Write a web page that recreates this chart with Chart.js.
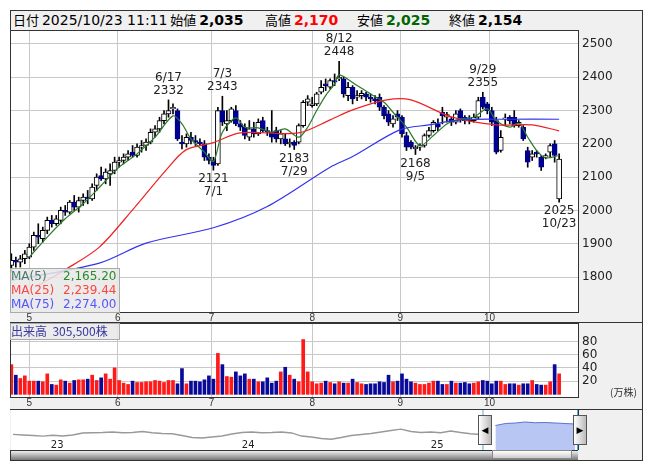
<!DOCTYPE html>
<html><head><meta charset="utf-8">
<script src="https://cdn.jsdelivr.net/npm/chart.js@4/dist/chart.umd.min.js"></script>
<style>
body{margin:0;background:#fff;font-family:"DejaVu Sans",sans-serif;}
#frame{position:absolute;left:10px;top:10px;width:631px;height:449px;border:1px solid #333;background:#f0f0f0;}
#hdr{position:absolute;left:10px;top:10px;width:632px;height:20px;font-family:"Noto Sans CJK JP","DejaVu Sans",sans-serif;font-size:13px;line-height:20px;white-space:nowrap;}
#hdr span{position:absolute;top:0}
#hdr i{font-style:normal;font-family:"DejaVu Sans",sans-serif;font-size:14px}
#hdr b{font-family:"DejaVu Sans",sans-serif;font-size:14px}
canvas{position:absolute;}
.box{position:absolute;background:rgba(232,232,232,0.85);border:1px solid #aaa;font-size:12px;line-height:14px;white-space:nowrap;}
</style></head><body>
<div id="frame"></div>
<div id="hdr">
<span style="left:3px">日付 <i>2025/10/23 11:11</i> 始値 <b>2,035</b></span>
<span style="left:255px">高値 <b style="color:#f00">2,170</b></span>
<span style="left:347px">安値 <b style="color:#060">2,025</b></span>
<span style="left:439px">終値 <b>2,154</b></span>
</div>
<canvas id="pc" style="left:10px;top:30px;width:632px;height:293px" width="632" height="293"></canvas>
<canvas id="vc" style="left:10px;top:323px;width:632px;height:87px" width="632" height="87"></canvas>
<canvas id="nc" style="left:10px;top:410px;width:632px;height:40px" width="632" height="40"></canvas>
<div style="position:absolute;left:11px;top:450px;width:567px;height:9px;background:linear-gradient(#eee,#777);border-top:1px solid #333"></div>
<div style="position:absolute;left:492px;top:450px;width:80px;height:9px;background:linear-gradient(#fff,#ccc);border:1px solid #888;box-sizing:border-box"></div>
<div style="position:absolute;left:478px;top:415px;width:12px;height:28px;background:linear-gradient(90deg,#fff,#bbb);border:1px solid #555;font-size:9px;line-height:28px;text-align:center">◀</div>
<div style="position:absolute;left:573px;top:415px;width:12px;height:28px;background:linear-gradient(90deg,#fff,#bbb);border:1px solid #555;font-size:9px;line-height:28px;text-align:center">▶</div>
<div class="box" style="left:10px;top:268px;width:108px;height:43px">
<div><span style="color:#4a7a6a">MA(5)</span><span style="position:absolute;left:52px;color:#2a8a2a">2,165.20</span></div>
<div><span style="color:#f44">MA(25)</span><span style="position:absolute;left:52px;color:#f44">2,239.44</span></div>
<div><span style="color:#55f">MA(75)</span><span style="position:absolute;left:52px;color:#55f">2,274.00</span></div>
</div>
<div class="box" style="left:10px;top:323px;width:108px;height:15px;color:#3838a0;font-family:'Noto Sans CJK JP',sans-serif">出来高 &nbsp;305,500株</div>
<div style="position:absolute;left:610px;top:384px;font-size:10px;color:#333;font-family:'Noto Sans CJK JP',sans-serif">(万株)</div>
<script>
const bars=[
[1835,1870,1815,1850],[1850,1860,1830,1845],[1845,1865,1830,1855],[1855,1880,1840,1870],[1860,1900,1855,1890],
[1890,1935,1880,1925],[1925,1960,1900,1920],[1915,1950,1905,1940],[1940,1980,1930,1970],[1970,1985,1950,1960],
[1960,1985,1955,1975],[1970,2010,1960,2000],[2000,2015,1985,1995],[1995,2030,1990,2025],[2025,2045,2000,2010],
[2010,2040,1995,2030],[2030,2050,2015,2040],[2040,2060,2020,2035],[2035,2080,2030,2070],[2075,2110,2060,2100],
[2105,2130,2090,2095],[2095,2125,2080,2115],[2110,2140,2075,2120],[2120,2160,2110,2145],[2145,2160,2130,2150],
[2150,2170,2140,2160],[2160,2180,2150,2170],[2175,2195,2160,2165],[2165,2200,2160,2190],[2190,2210,2175,2195],
[2195,2215,2180,2205],[2205,2245,2200,2235],[2235,2255,2220,2245],[2245,2280,2235,2270],[2270,2300,2260,2290],
[2290,2332,2280,2300],[2305,2320,2290,2310],[2300,2305,2210,2215],[2205,2225,2185,2200],[2200,2230,2190,2220],
[2220,2235,2200,2210],[2210,2225,2195,2205],[2205,2215,2195,2200],[2200,2210,2150,2160],[2160,2170,2140,2150],
[2150,2160,2121,2135],[2140,2310,2135,2300],[2300,2343,2255,2265],[2260,2300,2240,2270],[2270,2310,2265,2305],
[2300,2315,2255,2260],[2260,2270,2240,2250],[2250,2260,2215,2225],[2220,2270,2210,2245],[2245,2265,2220,2230],
[2230,2275,2225,2265],[2270,2280,2235,2240],[2240,2250,2225,2235],[2235,2300,2205,2220],[2240,2250,2205,2215],
[2215,2240,2200,2230],[2215,2230,2195,2200],[2200,2215,2190,2205],[2205,2210,2183,2195],[2205,2260,2200,2255],
[2255,2330,2250,2325],[2325,2345,2315,2335],[2315,2340,2310,2320],[2320,2355,2315,2350],[2355,2390,2350,2370],
[2380,2395,2360,2375],[2370,2395,2365,2390],[2390,2410,2375,2385],[2395,2448,2390,2400],[2395,2400,2340,2350],
[2345,2385,2330,2370],[2370,2375,2320,2335],[2340,2360,2330,2345],[2345,2360,2335,2352],[2350,2355,2330,2340],
[2340,2350,2325,2335],[2335,2345,2320,2330],[2340,2350,2300,2310],[2310,2315,2275,2285],[2290,2300,2255,2265],
[2260,2285,2250,2275],[2290,2300,2270,2280],[2280,2285,2220,2230],[2225,2235,2180,2190],[2205,2210,2185,2190],
[2185,2195,2168,2190],[2190,2200,2180,2195],[2195,2230,2190,2225],[2225,2250,2220,2240],[2240,2270,2235,2265],
[2260,2275,2240,2250],[2295,2310,2260,2285],[2280,2295,2265,2288],[2275,2280,2255,2265],[2265,2300,2260,2290],
[2300,2305,2265,2275],[2280,2285,2260,2270],[2275,2285,2260,2270],[2270,2290,2265,2280],[2280,2340,2275,2330],
[2340,2355,2305,2310],[2320,2325,2290,2300],[2300,2310,2255,2265],[2270,2280,2170,2175],[2180,2240,2175,2220],
[2275,2290,2255,2275],[2280,2285,2260,2270],[2280,2300,2250,2255],[2255,2270,2250,2265],[2250,2255,2210,2215],
[2180,2190,2130,2145],[2160,2180,2150,2170],[2175,2180,2160,2170],[2160,2165,2120,2130],[2160,2170,2155,2165],
[2175,2200,2160,2195],[2200,2210,2145,2165],[2035,2170,2025,2154]];
const vol=[45,29,24,28,20,20,20,19,31,15, 14,22,20,17,21,22,22,23,29,21, 25,31,23,40,21,17,15,20,18,18,
19,19,21,20,18,21,21,16,39,16, 20,20,19,22,28,23,62,45,27,26, 34,28,31,23,23,19,19,25,17,20,
34,41,29,23,19,83,34,19,16,17, 20,18,16,19,17,17,23,18,16,15, 16,16,19,18,29,19,20,31,23,19,
17,15,15,17,20,20,15,15,20,17, 17,18,16, 17,19,21,20,16,20,20,15,16,16, 14,16,16,21,15,14,14,19,45,31];
const ma5=[[4,1860],[8,1920],[12,1975],[16,2020],[20,2075],[24,2130],[28,2170],[32,2220],[36,2284],[38,2260],[40,2215],[43,2175],[45,2147],[47,2235],[50,2278],[52,2250],[55,2248],[58,2235],[61,2245],[64,2220],[66,2250],[68,2300],[70,2345],[72,2380],[73,2407],[77,2375],[80,2350],[83,2325],[85,2295],[88,2250],[91,2195],[94,2225],[97,2260],[100,2275],[103,2280],[106,2305],[108,2270],[111,2250],[113,2262],[115,2220],[117,2180],[119,2158],[122,2165]];
const ma25=[[6,1775],[12,1822],[19.6,1890],[27,2002],[34.5,2122],[38.9,2182],[44.8,2203],[51,2233],[64,2233],[71,2272],[76,2302],[83.6,2332],[89,2332],[98,2281],[108,2257],[116,2257],[122,2239]];
const ma75=[[0,1790],[19.6,1842],[30,1902],[45,1948],[57,2012],[71,2130],[76,2162],[86.5,2242],[93,2257],[100,2272],[110,2274],[122,2274]];
const monthStarts=[4,23.7,44.6,67,86.6,106.5];
const monthLabels=['5','6','7','8','9','10'];
const priceTicks=[1800,1900,2000,2100,2200,2300,2400,2500];
const volTicks=[20,40,60,80];
const marks=[{i:35,v:2332,t:['6/17','2332'],up:true},{i:47,v:2343,t:['7/3','2343'],up:true},{i:73,v:2448,t:['8/12','2448'],up:true},{i:105,v:2355,t:['9/29','2355'],up:true},
{i:45,v:2121,t:['2121','7/1'],up:false},{i:63,v:2183,t:['2183','7/29'],up:false},{i:90,v:2168,t:['2168','9/5'],up:false},{i:122,v:2025,t:['2025','10/23'],up:false}];
const navGray=[1624,1600,1580,1555,1590,1560,1600,1680,1690,1700,1720,1690,1700,1740,1690,1660,1650,1580,1500,1480,1520,1560,1640,1700,1720,1690,1700,1720,1680,1560,1520,1460,1430,1500,1580,1620,1660,1720,1780,1832,1740,1700,1720,1690,1760,1700,1650,1620];
const navBlue=[1980,2060,2080,2120,2090,2100,2080,2060,2040];
const navYears=[[3.8,'23'],[23,'24'],[42,'25']];

const up=bars.map(b=>b[3]>=b[0]);
const XMIN=-0.3,XMAX=126.2;
const noPad=s=>{s.paddingTop=0;s.paddingBottom=0;s.paddingLeft=0;s.paddingRight=0;};
const frameP={id:'fp',beforeDraw(c){const x=c.ctx,a=c.chartArea;x.save();x.fillStyle='#f0f0f0';x.fillRect(0,0,c.width,c.height);x.fillStyle='#fff';x.fillRect(a.left,a.top,a.right-a.left,a.bottom-a.top);x.restore();},
afterDraw(c){const x=c.ctx,a=c.chartArea;x.save();x.strokeStyle='#333';x.lineWidth=1;x.strokeRect(a.left+0.5,a.top+0.5,a.right-a.left,a.bottom-a.top);x.beginPath();x.moveTo(0,c.height-0.5);x.lineTo(c.width,c.height-0.5);x.stroke();x.restore();}};
function xAxis(h){return {type:'linear',min:XMIN,max:XMAX,offset:false,bounds:'ticks',afterBuildTicks:s=>{s.ticks=monthStarts.map(v=>({value:v}));},
ticks:{callback:(v,i)=>monthLabels[i],font:{size:10},color:'#333',padding:0,maxRotation:0,autoSkip:false},
grid:{color:'#c8c8c8',drawTicks:false,offset:false},border:{display:false},afterFit:s=>{s.height=h;noPad(s);}};}
const annP={id:'ann',afterDatasetsDraw(c){const x=c.ctx,xs=c.scales.x,ys=c.scales.y;x.save();x.font='12px "DejaVu Sans"';x.fillStyle='#222';x.textAlign='center';
for(const m of marks){const px=xs.getPixelForValue(m.i),py=ys.getPixelForValue(m.v);
if(m.up){x.textBaseline='bottom';x.fillText(m.t[1],px,py-3);x.fillText(m.t[0],px,py-16);}else{x.textBaseline='top';x.fillText(m.t[0],px,py+3);x.fillText(m.t[1],px,py+16);}}x.restore();}};
const lineDs=(d,col)=>({type:'line',data:d.map(p=>({x:p[0],y:p[1]})),borderColor:col,borderWidth:1.2,pointRadius:0,tension:0.3,order:0});
const yTick=v=>String(v);
new Chart(document.getElementById('pc'),{type:'bar',data:{datasets:[
{data:bars.map((b,i)=>({x:i,y:[b[2],b[1]]})),backgroundColor:'#000',barThickness:1,grouped:false,order:3},
{data:bars.map((b,i)=>({x:i,y:[b[0],b[3]]})),backgroundColor:up.map(u=>u?'#fff':'#000090'),borderColor:up.map(u=>u?'#000':'#000090'),borderWidth:1,borderSkipped:false,barThickness:5,minBarLength:1,grouped:false,order:2},
lineDs(ma75,'#3333ee'),lineDs(ma25,'#ee2222'),lineDs(ma5,'#2a7a2a')]},
options:{animation:false,responsive:false,devicePixelRatio:1,layout:{padding:0},plugins:{legend:{display:false},tooltip:{enabled:false}},
scales:{x:xAxis(11),y:{position:'right',min:1695,max:2542,afterBuildTicks:s=>{s.ticks=priceTicks.map(v=>({value:v}));},
ticks:{callback:yTick,font:{size:12,family:'DejaVu Sans'},color:'#222',padding:4},grid:{color:'#c8c8c8',drawTicks:false},border:{display:false},afterFit:s=>{s.width=64;noPad(s);}}}},plugins:[frameP,annP]});
new Chart(document.getElementById('vc'),{type:'bar',data:{datasets:[
{data:vol.map((v,i)=>({x:i,y:v})),backgroundColor:up.map(u=>u?'#ff1a1a':'#0a0a9a'),barThickness:3}]},
options:{animation:false,responsive:false,devicePixelRatio:1,layout:{padding:0},plugins:{legend:{display:false},tooltip:{enabled:false}},
scales:{x:xAxis(13),y:{position:'right',min:-4,max:108,afterBuildTicks:s=>{s.ticks=volTicks.map(v=>({value:v}));},
ticks:{callback:yTick,font:{size:12,family:'DejaVu Sans'},color:'#222',padding:4},grid:{color:'#c8c8c8',drawTicks:false},border:{display:false},afterFit:s=>{s.width=64;noPad(s);}}}},plugins:[frameP]});
const navP={id:'np',beforeDraw(c){const x=c.ctx,a=c.chartArea;x.save();x.fillStyle='#f0f0f0';x.fillRect(0,0,c.width,c.height);x.fillStyle='#fff';x.fillRect(a.left,a.top,a.right-a.left,a.bottom-a.top);x.restore();},
afterDraw(c){const x=c.ctx,a=c.chartArea,xs=c.scales.x;x.save();x.font='10px "DejaVu Sans"';x.fillStyle='#222';x.textAlign='left';x.textBaseline='bottom';
for(const y of navYears)x.fillText(y[1],xs.getPixelForValue(y[0]),a.bottom);
x.strokeStyle='#4ab0e0';x.beginPath();x.moveTo(xs.getPixelForValue(47.2)+0.5,0);x.lineTo(xs.getPixelForValue(47.2)+0.5,c.height);x.moveTo(a.right-0.5,0);x.lineTo(a.right-0.5,c.height);x.stroke();
x.strokeStyle='#333';x.beginPath();x.moveTo(a.right+0.5,0);x.lineTo(a.right+0.5,c.height);x.stroke();x.restore();}};
new Chart(document.getElementById('nc'),{type:'line',data:{datasets:[
{data:navGray.map((v,i)=>({x:i,y:v})),borderColor:'#999',borderWidth:1.3,pointRadius:0,fill:false},
{data:navBlue.map((v,i)=>({x:48.5+i,y:v})),borderColor:'#6070d0',borderWidth:1,pointRadius:0,fill:'start',backgroundColor:'#b8c6f4'}]},
options:{animation:false,responsive:false,devicePixelRatio:1,layout:{padding:{left:1,right:64}},plugins:{legend:{display:false},tooltip:{enabled:false}},
scales:{x:{type:'linear',min:-0.2,max:56.8,display:false},y:{min:1000,max:2600,display:false}}},plugins:[navP]});
</script></body></html>
